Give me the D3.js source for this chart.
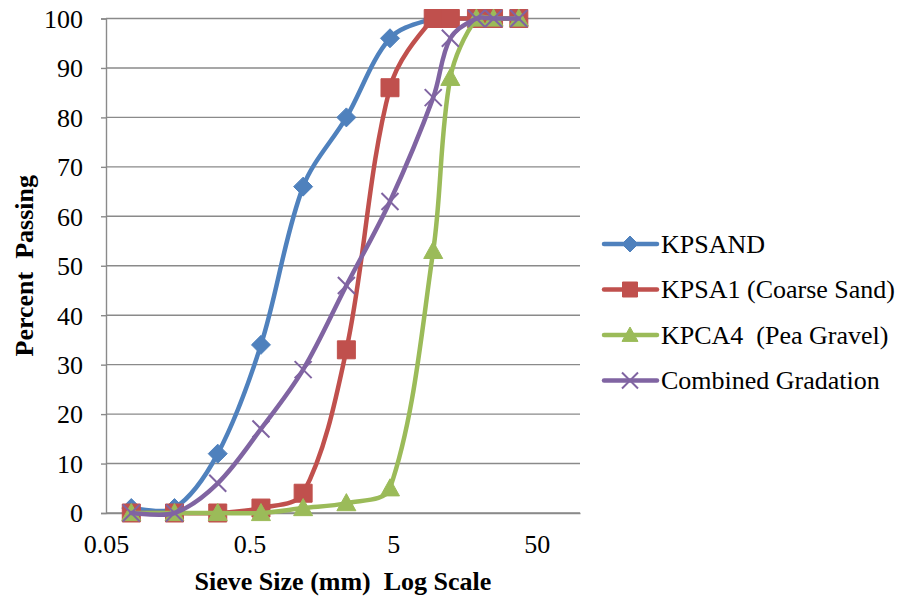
<!DOCTYPE html>
<html>
<head>
<meta charset="utf-8">
<script src="https://cdn.jsdelivr.net/npm/d3@7"></script>
<style>
  html, body { margin: 0; padding: 0; background: #fff; }
  svg { display: block; }
  svg text { white-space: pre; font-family: "Liberation Serif", "Times New Roman", Times, serif; }
</style>
</head>
<body>
<div id="chart"></div>
<script>
// Sieve sizes (mm) and percent passing for each material
const sieveSizes = [0.075, 0.15, 0.3, 0.6, 1.18, 2.36, 4.75, 9.5, 12.5, 19, 25, 37.5];
const kpsand     = [1, 1, 12, 34, 66, 80, 96, 100, 100, 100, 100, 100];
const kpsa1      = [0, 0, 0, 1, 4, 33, 86, 100, 100, 100, 100, 100];
const kpca4      = [0, 0, 0, 0, 1, 2, 5, 53, 88, 100, 100, 100];
const combined   = [0, 0, 6, 17, 29, 46, 63, 84, 96, 100, 100, 100];

const seriesNames = ["KPSAND", "KPSA1 (Coarse Sand)", "KPCA4  (Pea Gravel)", "Combined Gradation"];
const xTicks = [0.05, 0.5, 5, 50];
const yTicks = [0, 10, 20, 30, 40, 50, 60, 70, 80, 90, 100];

const series = [
  { name: seriesNames[0], values: kpsand,   color: "#4F81BD", marker: "diamond" },
  { name: seriesNames[1], values: kpsa1,    color: "#C0504D", marker: "square" },
  { name: seriesNames[2], values: kpca4,    color: "#9BBB59", marker: "triangle" },
  { name: seriesNames[3], values: combined, color: "#8064A2", marker: "cross" }
];

const W = 904, H = 601;
const plot = { left: 106, right: 580, top: 18.5, bottom: 513 };
const serif = '"Liberation Serif", "Times New Roman", Times, serif';

const svg = d3.select("#chart").append("svg")
  .attr("width", W).attr("height", H);

const x = d3.scaleLog().domain([0.05, 100]).range([plot.left, plot.right]);
const y = d3.scaleLinear().domain([0, 100]).range([plot.bottom, plot.top]);

// horizontal gridlines
svg.append("g").selectAll("line").data(yTicks).join("line")
  .attr("x1", plot.left).attr("x2", plot.right)
  .attr("y1", d => y(d)).attr("y2", d => y(d))
  .attr("stroke", "#8a8a8a").attr("stroke-width", 1.4);

// y axis with outward ticks
const yAxis = d3.axisLeft(y).tickValues(yTicks).tickSize(5).tickPadding(18).tickFormat(d3.format("d"));
const gy = svg.append("g").attr("transform", `translate(${plot.left},0)`).call(yAxis)
  .attr("font-family", serif);
gy.select(".domain").attr("stroke", "#8a8a8a").attr("stroke-width", 1.4);
gy.selectAll(".tick line").attr("stroke", "#8a8a8a").attr("stroke-width", 1.4);
gy.selectAll(".tick text")
  .attr("font-size", 26).attr("fill", "#000").attr("dy", "0.34em");

// x axis (log), labels only
const xAxis = d3.axisBottom(x).tickValues(xTicks).tickSize(0).tickPadding(0).tickFormat(d => String(d));
const gx = svg.append("g").attr("transform", `translate(0,${plot.bottom})`).call(xAxis)
  .attr("font-family", serif);
gx.select(".domain").attr("stroke", "#8a8a8a").attr("stroke-width", 1.4);
gx.selectAll(".tick text")
  .attr("font-size", 26).attr("fill", "#000").attr("y", 40).attr("dy", 0);

// axis titles
svg.append("text")
  .attr("x", (plot.left + plot.right) / 2).attr("y", 590)
  .attr("text-anchor", "middle").attr("font-weight", "bold").attr("font-size", 26)
  .text("Sieve Size (mm)  Log Scale");
svg.append("text")
  .attr("transform", `translate(33,${(plot.top + plot.bottom) / 2}) rotate(-90)`)
  .attr("text-anchor", "middle").attr("font-weight", "bold").attr("font-size", 26)
  .text("Percent  Passing");

// marker shapes
function markerPath(type, s) {
  const h = s / 2;
  if (type === "diamond") return `M0,${-h}L${h},0L0,${h}L${-h},0Z`;
  if (type === "square") return `M${-h},${-h}H${h}V${h}H${-h}Z`;
  if (type === "triangle") return `M0,${-h}L${h},${h * 0.8}L${-h},${h * 0.8}Z`;
  return `M${-h},${-h}L${h},${h}M${h},${-h}L${-h},${h}`;
}
const markerSize = { diamond: 19, square: 18, triangle: 19, cross: 17 };

function drawMarker(g, type, color, size) {
  const p = g.append("path").attr("d", markerPath(type, size));
  if (type === "cross") {
    p.attr("fill", "none").attr("stroke", color).attr("stroke-width", 2);
  } else {
    p.attr("fill", color).attr("stroke", color).attr("stroke-width", 1);
  }
}

// Smoothed line: cubic Bezier through each point, tangent taken from the
// neighbouring points and scaled by the relative length of adjacent segments.
function smoothPath(pts) {
  const n = pts.length;
  const p = d3.path();
  const dist = (a, b) => Math.hypot(b[0] - a[0], b[1] - a[1]);
  const tan = pts.map((pt, i) => {
    const a = pts[Math.max(i - 1, 0)], b = pts[Math.min(i + 1, n - 1)];
    return [b[0] - a[0], b[1] - a[1]];
  });
  p.moveTo(pts[0][0], pts[0][1]);
  for (let i = 0; i < n - 1; i++) {
    const a = pts[i], b = pts[i + 1];
    const L = dist(a, b);
    const La = i > 0 ? dist(pts[i - 1], a) : L;
    const Lb = i + 2 < n ? dist(b, pts[i + 2]) : L;
    const ka = (La + L) > 0 ? L / (La + L) / 3 : 0;
    const kb = (L + Lb) > 0 ? L / (L + Lb) / 3 : 0;
    p.bezierCurveTo(
      a[0] + tan[i][0] * ka, a[1] + tan[i][1] * ka,
      b[0] - tan[i + 1][0] * kb, b[1] - tan[i + 1][1] * kb,
      b[0], b[1]);
  }
  return p.toString();
}

// series: line then markers, in order
series.forEach(s => {
  const g = svg.append("g");
  const pts = s.values.map((v, i) => [x(sieveSizes[i]), y(v)]);
  g.append("path").attr("d", smoothPath(pts))
    .attr("fill", "none").attr("stroke", s.color).attr("stroke-width", 4.5)
    .attr("stroke-linejoin", "round").attr("stroke-linecap", "round");
  s.values.forEach((v, i) => {
    const mg = g.append("g").attr("transform", `translate(${x(sieveSizes[i])},${y(v)})`);
    drawMarker(mg, s.marker, s.color, markerSize[s.marker]);
  });
});

// legend
const legend = svg.append("g");
series.forEach((s, i) => {
  const cy = 244 + i * 45.5;
  const g = legend.append("g").attr("transform", `translate(0,${cy})`);
  g.append("line").attr("x1", 604).attr("x2", 657).attr("y1", 0).attr("y2", 0)
    .attr("stroke", s.color).attr("stroke-width", 4.5).attr("stroke-linecap", "round");
  const mg = g.append("g").attr("transform", "translate(630,0)");
  drawMarker(mg, s.marker, s.color, s.marker === "square" ? 15 : 16);
  g.append("text").attr("x", 661).attr("y", 0).attr("dy", "0.33em")
    .attr("font-size", 26).attr("fill", "#000").text(s.name);
});
</script>
</body>
</html>
